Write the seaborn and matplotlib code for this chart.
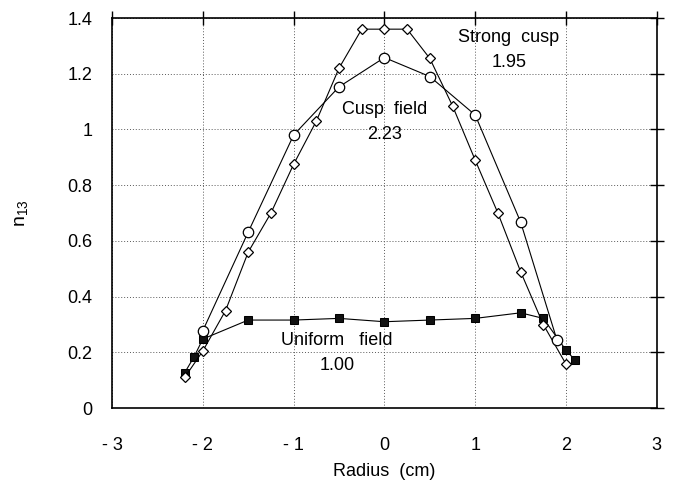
import matplotlib
matplotlib.use("Agg")
import matplotlib.pyplot as plt
import seaborn as sns
import pandas as pd

# Strong cusp (open diamonds)
strong_x = [-2.2, -2.0, -1.75, -1.5, -1.25, -1.0, -0.75, -0.5, -0.25, 0.0, 0.25, 0.5, 0.75, 1.0, 1.25, 1.5, 1.75, 2.0]
strong_y = [0.11, 0.205, 0.35, 0.56, 0.70, 0.875, 1.03, 1.22, 1.36, 1.36, 1.36, 1.255, 1.085, 0.89, 0.70, 0.49, 0.30, 0.158]

# Cusp field (open circles)
cusp_x = [-2.0, -1.5, -1.0, -0.5, 0.0, 0.5, 1.0, 1.5, 1.9]
cusp_y = [0.278, 0.632, 0.98, 1.153, 1.258, 1.19, 1.052, 0.668, 0.245]

# Uniform field (filled squares)
unif_x = [-2.2, -2.1, -2.0, -1.5, -1.0, -0.5, 0.0, 0.5, 1.0, 1.5, 1.75, 2.0, 2.1]
unif_y = [0.127, 0.182, 0.248, 0.316, 0.316, 0.322, 0.31, 0.316, 0.322, 0.342, 0.322, 0.208, 0.172]

xticks = [-3, -2, -1, 0, 1, 2, 3]
xticklabels = ["- 3", "- 2", "- 1", "0", "1", "2", "3"]
yticks = [0, 0.2, 0.4, 0.6, 0.8, 1.0, 1.2, 1.4]
yticklabels = ["0", "0.2", "0.4", "0.6", "0.8", "1", "1.2", "1.4"]

sns.set_theme(style="white")
plt.rcParams["font.family"] = ["Liberation Sans", "DejaVu Sans"]

fig = plt.figure(figsize=(6.75, 4.87), dpi=100)
ax = fig.add_axes([0.166, 0.162, 0.807, 0.801])

df_s = pd.DataFrame({"x": strong_x, "y": strong_y})
df_c = pd.DataFrame({"x": cusp_x, "y": cusp_y})
df_u = pd.DataFrame({"x": unif_x, "y": unif_y})

sns.lineplot(data=df_u, x="x", y="y", ax=ax, color="black", lw=0.8,
             marker="s", markersize=6.2, markerfacecolor="#111111",
             markeredgecolor="black", zorder=3)
sns.lineplot(data=df_s, x="x", y="y", ax=ax, color="black", lw=0.8,
             marker="D", markersize=4.8, markerfacecolor="white",
             markeredgecolor="black", markeredgewidth=0.9, zorder=4)
sns.lineplot(data=df_c, x="x", y="y", ax=ax, color="black", lw=0.8,
             marker="o", markersize=7.5, markerfacecolor="white",
             markeredgecolor="black", markeredgewidth=0.9, zorder=5)

ax.set_xlim(-3, 3)
ax.set_ylim(0, 1.4)
ax.set_xticks(xticks)
ax.set_xticklabels(xticklabels)
ax.set_yticks(yticks)
ax.set_yticklabels(yticklabels)

ax.grid(True, color="0.35", linestyle=(0, (1, 2)), linewidth=0.7)
ax.set_axisbelow(True)
for s in ax.spines.values():
    s.set_visible(True)
    s.set_color("black")
    s.set_linewidth(1.2)

ax.tick_params(axis="both", which="major", direction="inout", length=10, width=1.0,
               color="black", top=True, right=True, labelsize=13, labelcolor="black")
ax.tick_params(axis="x", pad=16)
ax.tick_params(axis="y", pad=9)

ax.set_xlabel("Radius  (cm)", fontsize=13, color="black", labelpad=6)
ax.set_ylabel(r"n$_{\mathregular{13}}$", fontsize=14, color="black", labelpad=26)

ax.text(0.0, 1.027, "Cusp  field\n2.23", ha="center", va="center", fontsize=13,
        linespacing=1.65, color="black")
ax.text(1.37, 1.285, "Strong  cusp\n1.95", ha="center", va="center", fontsize=13,
        linespacing=1.65, color="black")
ax.text(-0.52, 0.197, "Uniform   field\n1.00", ha="center", va="center", fontsize=13,
        linespacing=1.65, color="black")

fig.savefig("out.png", dpi=100)
